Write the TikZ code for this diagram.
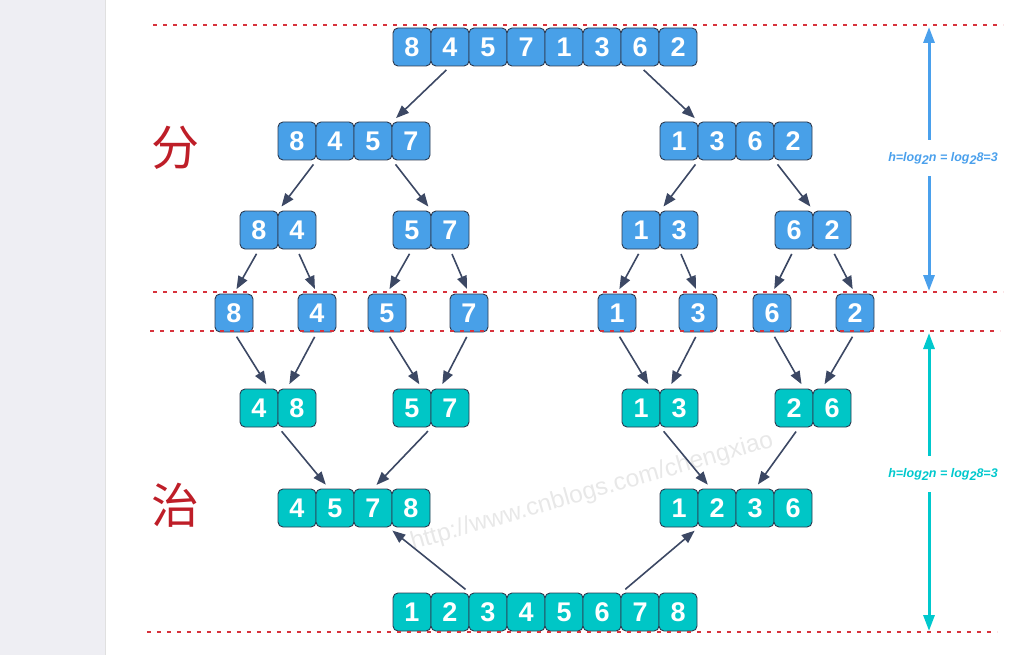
\documentclass[tikz,border=0pt]{standalone}
\usepackage{fontspec}
\setmainfont{Liberation Sans}
\newfontfamily\cellfont{Liberation Sans Bold}
\newfontfamily\cjk{Noto Sans CJK SC}
\usetikzlibrary{arrows.meta}
\definecolor{cellblue}{RGB}{72,160,232}
\definecolor{cellteal}{RGB}{0,198,198}
\definecolor{cellline}{RGB}{45,58,80}
\definecolor{linkgray}{RGB}{60,72,100}
\definecolor{cutred}{RGB}{215,50,60}
\definecolor{sidegray}{RGB}{238,238,243}
\definecolor{hblue}{RGB}{74,160,236}
\definecolor{hteal}{RGB}{0,200,205}
\definecolor{hanred}{RGB}{190,30,40}

\begin{document}
\begin{tikzpicture}[x=1pt,y=-1pt]
        \tikzset{cell/.style = {shape=rectangle,draw=cellline,line width=0.9pt,rounded corners=5pt,minimum width=38pt,minimum height=38pt,inner sep=0pt,text=white,font=\cellfont\fontsize{27}{27}\selectfont}};
        \tikzset{split/.style = {cell,fill=cellblue}};
        \tikzset{merge/.style = {cell,fill=cellteal}};
        \tikzset{link/.style = {-{Triangle[length=13pt,width=10pt]},draw=linkgray,line width=1.6pt,shorten <=5pt,shorten >=5pt}};
        \tikzset{cut/.style = {draw=cutred,line width=1.8pt,dash pattern=on 4pt off 6pt}};
        \tikzset{levelarrow/.style = {-{Triangle[length=16pt,width=11pt]},line width=3pt}};
        \tikzset{hlabel/.style = {font=\bfseries\itshape\fontsize{12.5}{12.5}\selectfont,inner xsep=0pt,inner ysep=12pt}};
        \tikzset{han/.style = {text=hanred,font=\cjk\fontsize{48}{48}\selectfont}};
        \useasboundingbox (0,0) rectangle (1027,655);
        \fill[sidegray] (0,0) rectangle (105,655);
        \draw[black!12,line width=1pt] (105,0) -- (105,655);
        \node[rotate=16,text=black!9,font=\fontsize{24.5}{24.5}\selectfont] (wm) at (592,492) {http://www.cnblogs.com/chengxiao};
        % divide
        \node[split] (a1) at (412,47) {8};
        \node[split] (a2) at (450,47) {4};
        \node[split] (a3) at (488,47) {5};
        \node[split] (a4) at (526,47) {7};
        \node[split] (a5) at (564,47) {1};
        \node[split] (a6) at (602,47) {3};
        \node[split] (a7) at (640,47) {6};
        \node[split] (a8) at (678,47) {2};
        \node[split] (b1) at (297,141) {8};
        \node[split] (b2) at (335,141) {4};
        \node[split] (b3) at (373,141) {5};
        \node[split] (b4) at (411,141) {7};
        \node[split] (b5) at (679,141) {1};
        \node[split] (b6) at (717,141) {3};
        \node[split] (b7) at (755,141) {6};
        \node[split] (b8) at (793,141) {2};
        \node[split] (c1) at (259,230) {8};
        \node[split] (c2) at (297,230) {4};
        \node[split] (c3) at (412,230) {5};
        \node[split] (c4) at (450,230) {7};
        \node[split] (c5) at (641,230) {1};
        \node[split] (c6) at (679,230) {3};
        \node[split] (c7) at (794,230) {6};
        \node[split] (c8) at (832,230) {2};
        \node[split] (d1) at (234,313) {8};
        \node[split] (d2) at (317,313) {4};
        \node[split] (d3) at (387,313) {5};
        \node[split] (d4) at (469,313) {7};
        \node[split] (d5) at (617,313) {1};
        \node[split] (d6) at (698,313) {3};
        \node[split] (d7) at (772,313) {6};
        \node[split] (d8) at (855,313) {2};
        % conquer
        \node[merge] (e1) at (259,408) {4};
        \node[merge] (e2) at (297,408) {8};
        \node[merge] (e3) at (412,408) {5};
        \node[merge] (e4) at (450,408) {7};
        \node[merge] (e5) at (641,408) {1};
        \node[merge] (e6) at (679,408) {3};
        \node[merge] (e7) at (794,408) {2};
        \node[merge] (e8) at (832,408) {6};
        \node[merge] (f1) at (297,508) {4};
        \node[merge] (f2) at (335,508) {5};
        \node[merge] (f3) at (373,508) {7};
        \node[merge] (f4) at (411,508) {8};
        \node[merge] (f5) at (679,508) {1};
        \node[merge] (f6) at (717,508) {2};
        \node[merge] (f7) at (755,508) {3};
        \node[merge] (f8) at (793,508) {6};
        \node[merge] (g1) at (412,612) {1};
        \node[merge] (g2) at (450,612) {2};
        \node[merge] (g3) at (488,612) {3};
        \node[merge] (g4) at (526,612) {4};
        \node[merge] (g5) at (564,612) {5};
        \node[merge] (g6) at (602,612) {6};
        \node[merge] (g7) at (640,612) {7};
        \node[merge] (g8) at (678,612) {8};
        \draw[link] (a2.south) -- (b3.north east);
        \draw[link] (a7.south) -- (b5.north east);
        \draw[link] (b1.south east) -- (c1.north east);
        \draw[link] (b3.south east) -- (c3.north east);
        \draw[link] (b5.south east) -- (c5.north east);
        \draw[link] (b7.south east) -- (c7.north east);
        \draw[link] (c1.south) -- (d1.north);
        \draw[link] (c2.south) -- (d2.north);
        \draw[link] (c3.south) -- (d3.north);
        \draw[link] (c4.south) -- (d4.north);
        \draw[link] (c5.south) -- (d5.north);
        \draw[link] (c6.south) -- (d6.north);
        \draw[link] (c7.south) -- (d7.north);
        \draw[link] (c8.south) -- (d8.north);
        \draw[link] (d1.south) -- ([xshift=10pt]e1.north);
        \draw[link] (d2.south) -- ([xshift=-10pt]e2.north);
        \draw[link] (d3.south) -- ([xshift=10pt]e3.north);
        \draw[link] (d4.south) -- ([xshift=-10pt]e4.north);
        \draw[link] (d5.south) -- ([xshift=10pt]e5.north);
        \draw[link] (d6.south) -- ([xshift=-10pt]e6.north);
        \draw[link] (d7.south) -- ([xshift=10pt]e7.north);
        \draw[link] (d8.south) -- ([xshift=-10pt]e8.north);
        \draw[link] (e1.south east) -- ([xshift=-6pt]f2.north);
        \draw[link] (e3.south east) -- (f3.north);
        \draw[link] (e5.south east) -- ([xshift=-6pt]f6.north);
        \draw[link] ([xshift=5pt]e7.south) -- (f7.north);
        \draw[link] (g2.north east) -- ([xshift=-4pt]f3.south east);
        \draw[link] (g6.north east) -- (f5.south east);
        % cut lines
        \draw[cut] (153,25) -- (1003,25);
        \draw[cut] (153,292) -- (1003,292);
        \draw[cut] (150,331) -- (1000,331);
        \draw[cut] (147,632) -- (997,632);
        \node[han] (fen) at (175,148) {分};
        \node[han] (zhi) at (175,505) {治};
        % tree height
        \coordinate (btop) at (929,27);
        \coordinate (bbot) at (929,291);
        \coordinate (ttop) at (929,333);
        \coordinate (tbot) at (929,631);
        \node[hlabel,text=hblue] (hsplit) at (943,158) {h=log\raisebox{-3pt}{2}n = log\raisebox{-3pt}{2}8=3};
        \node[hlabel,text=hteal] (hmerge) at (943,474) {h=log\raisebox{-3pt}{2}n = log\raisebox{-3pt}{2}8=3};
        \draw[levelarrow,hblue] (hsplit.north -| btop) -- (btop);
        \draw[levelarrow,hblue] (hsplit.south -| btop) -- (bbot);
        \draw[levelarrow,hteal] (hmerge.north -| ttop) -- (ttop);
        \draw[levelarrow,hteal] (hmerge.south -| ttop) -- (tbot);
\end{tikzpicture}
\end{document}
